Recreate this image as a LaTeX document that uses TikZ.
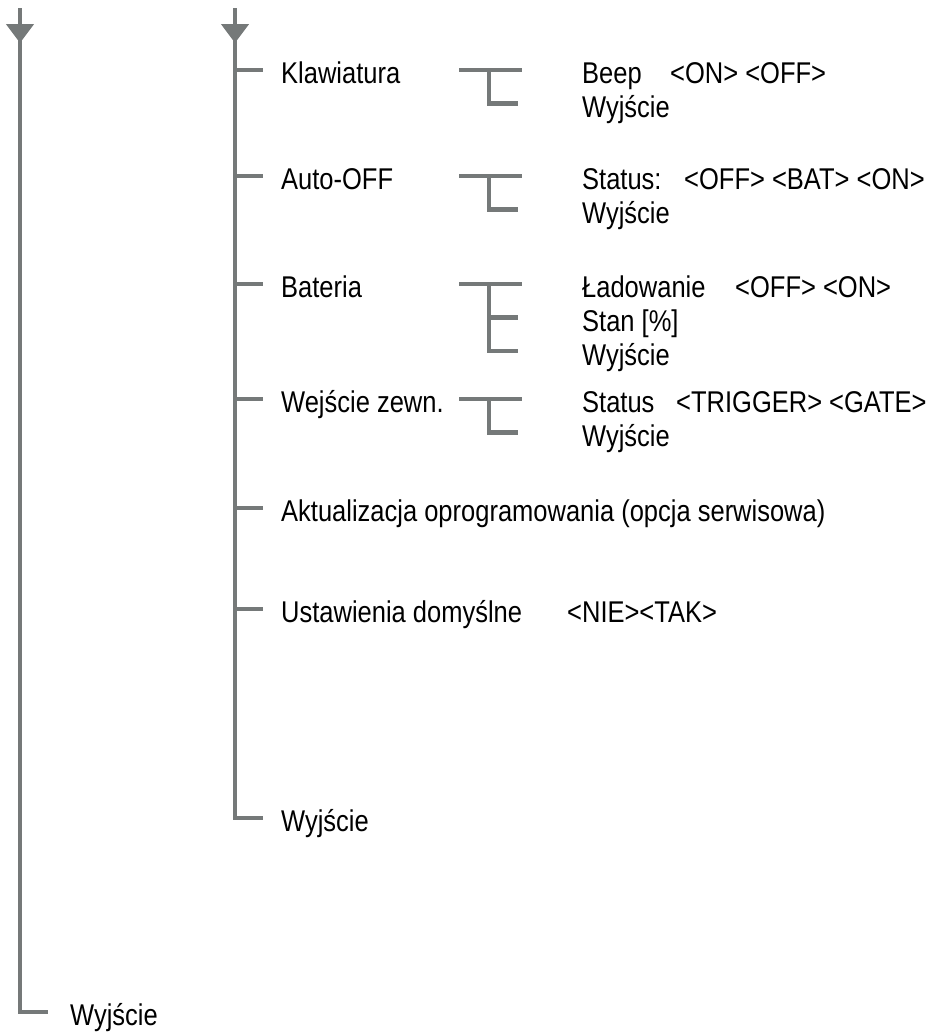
\documentclass[tikz,border=0pt]{standalone}
\usepackage{fontspec}
\setmainfont[FakeStretch=0.85]{Liberation Sans}
\usetikzlibrary{arrows.meta}
\definecolor{linegray}{RGB}{117,121,121}
\begin{document}
\begin{tikzpicture}[x=1pt,y=-1pt,
  tree/.style={draw=linegray,line width=4.5pt},
  headtip/.style={draw=linegray,fill=linegray,line width=4.5pt,-{Triangle[width=27pt,length=19pt]}},
  txt/.style={anchor=base west,inner sep=0pt,font=\fontsize{30}{36}\selectfont}]
\useasboundingbox (0,0) rectangle (936,1034);
% ---------- left tree ----------
\coordinate (Ltop) at (20,8);
\coordinate (Lhead) at (20,43);
\node[txt] (Lexit) at (70,1025) {Wyjście};
\coordinate (Lend) at (48,1012);
\draw[tree] (Ltop) |- (Lend);
\draw[headtip] (Ltop) -- (Lhead);
% ---------- right tree ----------
\coordinate (Rtop) at (235,8);
\coordinate (Rhead) at (235,43);
\coordinate (Rend) at (263,818);
\draw[tree] (Rtop) |- (Rend);
\draw[headtip] (Rtop) -- (Rhead);
% menu items
\node[txt] (klaw) at (281,83.5) {Klawiatura};
\node[txt] (auto) at (281,189.5) {Auto-OFF};
\node[txt] (bat)  at (281,297.5) {Bateria};
\node[txt] (wej)  at (281,412.5) {Wejście zewn.};
\node[txt] (akt)  at (281,521.5) {Aktualizacja oprogramowania (opcja serwisowa)};
\node[txt] (ust)  at (281,622.5) {Ustawienia domyślne};
\node[txt] (ustv) at (567,622.5) {<NIE><TAK>};
\node[txt] (wyj)  at (281,831.5) {Wyjście};
% ticks
\foreach \n/\y in {t1/70,t2/176,t3/284,t4/399,t5/508,t6/609}{
  \coordinate (\n a) at (235,\y);
  \coordinate (\n b) at (263,\y);
  \draw[tree] (\n a) -- (\n b);
}
% brackets
\foreach \n/\y/\k in {b1/70/1,b2/176/1,b3/284/2,b4/399/1}{
  \coordinate (\n l) at (459,\y);
  \coordinate (\n r) at (522,\y);
  \coordinate (\n v) at (489,\y);
  \draw[tree] (\n l) -- (\n r);
  \foreach \i in {1,...,\k}{
    \coordinate (\n e\i) at (518,\y+33.5*\i);
    \draw[tree] (\n v) |- (\n e\i);
  }
}
% sub-items
\node[txt] (beep)  at (582,83.5) {Beep};
\node[txt] (beepv) at (670,83.5) {<ON> <OFF>};
\node[txt] (w1)    at (582,117.5) {Wyjście};
\node[txt] (st1)   at (582,189.5) {Status:};
\node[txt] (st1v)  at (684,189.5) {<OFF> <BAT> <ON>};
\node[txt] (w2)    at (582,223.5) {Wyjście};
\node[txt] (lad)   at (582,297.5) {Ładowanie};
\node[txt] (ladv)  at (735,297.5) {<OFF> <ON>};
\node[txt] (stan)  at (582,331.5) {Stan [\%]};
\node[txt] (w3)    at (582,365.5) {Wyjście};
\node[txt] (st2)   at (582,412.5) {Status};
\node[txt] (st2v)  at (676,412.5) {<TRIGGER> <GATE>};
\node[txt] (w4)    at (582,446.5) {Wyjście};
\end{tikzpicture}
\end{document}
